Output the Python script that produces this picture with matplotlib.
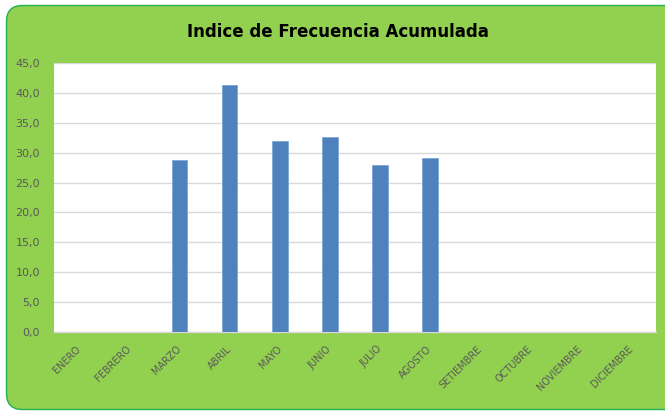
import numpy as np
import matplotlib
matplotlib.use("Agg")
from matplotlib import pyplot as plt
import matplotlib.patches as mpatches
from matplotlib.ticker import FuncFormatter

# datos
meses = ["ENERO", "FEBRERO", "MARZO", "ABRIL", "MAYO", "JUNIO", "JULIO",
         "AGOSTO", "SETIEMBRE", "OCTUBRE", "NOVIEMBRE", "DICIEMBRE"]
indice = [np.nan, np.nan, 28.7, 41.3, 32.0, 32.7, 27.9, 29.1,
          np.nan, np.nan, np.nan, np.nan]
titulo = "Indice de Frecuencia Acumulada"

VERDE = "#92d050"
AZUL = "#4f81bd"
GRIS = "#595959"

fig = plt.figure(figsize=(6.65, 4.11), dpi=100)
fig.patch.set_facecolor("white")

# caja verde redondeada (detras de los ejes)
caja = mpatches.FancyBboxPatch((0.065, 0.015), 7.0, 4.04,
                               boxstyle="round,pad=0,rounding_size=0.16",
                               transform=fig.dpi_scale_trans,
                               facecolor=VERDE, edgecolor="#21b14f", linewidth=1.0,
                               zorder=-10)
fig.patches.append(caja)

W, H = 665, 411
ax = fig.add_axes([54 / W, (H - 332) / H, (656 - 54) / W, (332 - 63) / H])
ax.set_zorder(5)
ax.set_facecolor("white")

x = np.arange(len(meses))
ax.bar(x, indice, width=0.31, color=AZUL, edgecolor="#7ea6d6", linewidth=0.6, zorder=3)

ax.set_xlim(-0.5, len(meses) - 0.5)
ax.set_ylim(0, 45)
ax.set_yticks(np.arange(0, 46, 5))
ax.yaxis.set_major_formatter(FuncFormatter(lambda v, p: f"{v:.1f}".replace(".", ",")))
ax.grid(axis="y", color="#d9d9d9", linewidth=1.0, zorder=0)
for s in ["top", "right", "left"]:
    ax.spines[s].set_visible(False)
ax.spines["bottom"].set_color("#d9d9d9")
ax.spines["bottom"].set_linewidth(1.0)

ax.set_xticks(x)
ax.set_xticklabels(meses, rotation=45, ha="right", va="center",
                   rotation_mode="anchor", fontsize=7, color=GRIS)
ax.tick_params(axis="x", length=0, pad=11)
ax.tick_params(axis="y", length=0, pad=10, labelsize=8, labelcolor=GRIS)

fig.text(338 / W, 1 - 32 / H, titulo, ha="center", va="center",
         fontsize=12, fontweight="bold", color="black", zorder=6)

fig.savefig("out.png", dpi=100, facecolor=fig.get_facecolor())
